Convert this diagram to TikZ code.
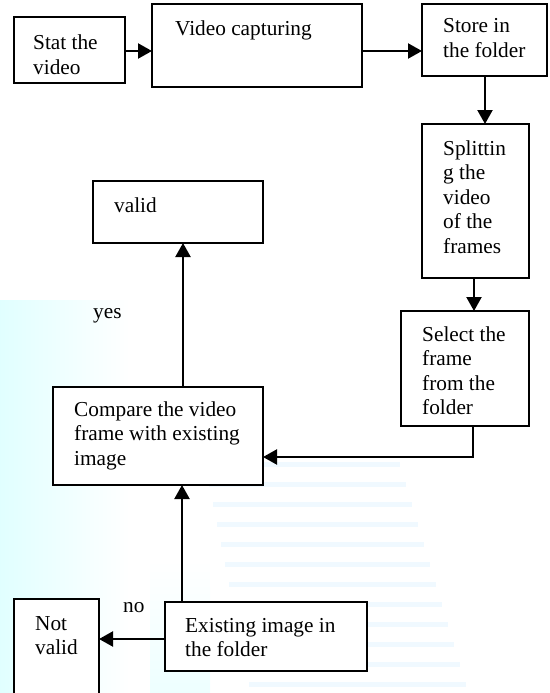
\documentclass[tikz,border=0pt]{standalone}
\usepackage{fontspec}
\setmainfont{Liberation Serif}
\usetikzlibrary{arrows.meta}
\newcommand\mtext[1]{\begin{tabular}[t]{@{}l@{}}#1\end{tabular}}
\tikzset{
  box/.style={draw=black, line width=1.6pt, inner sep=0pt, outer sep=0pt, anchor=north west, fill=white},
  txt/.style={anchor=base west, inner sep=0pt, font=\fontsize{21.3}{24.5}\selectfont},
  conn/.style={line width=2.2pt, -{Triangle[length=14pt,width=15pt]}},
}
\begin{document}
\begin{tikzpicture}[x=1pt,y=-1pt]
\useasboundingbox (0,0) rectangle (549,693);
% faint watermark background
\shade[left color=cyan!12, right color=white] (0,300) rectangle (130,693);
\shade[top color=white, bottom color=cyan!7] (150,560) rectangle (210,693);
\foreach \i in {0,...,11}{
  \fill[blue!40!cyan, opacity=0.06] (205+4*\i,462+20*\i) rectangle (400+6*\i,467+20*\i);
}
% boxes
\node[box, minimum width=111pt, minimum height=66pt] (stat) at (14,17) {};
\node[box, minimum width=210pt, minimum height=83pt] (cap) at (152,4) {};
\node[box, minimum width=125pt, minimum height=72pt] (store) at (422,4) {};
\node[box, minimum width=107pt, minimum height=154pt] (split) at (422,124) {};
\node[box, minimum width=128pt, minimum height=115pt] (select) at (401,311) {};
\node[box, minimum width=210pt, minimum height=98pt] (cmp) at (53,387) {};
\node[box, minimum width=170pt, minimum height=62pt] (valid) at (93,181) {};
\node[box, minimum width=202pt, minimum height=69pt] (exist) at (165,602) {};
\node[box, minimum width=85pt, minimum height=100pt] (notv) at (14,599) {};
% texts
\node[txt] (t1) at (33,50) {\mtext{Stat the\\video}};
\node[txt] (t2) at (175,36) {Video capturing};
\node[txt] (t3) at (443,33) {\mtext{Store in\\the folder}};
\node[txt] (t4) at (443,155) {\mtext{Splittin\\g the\\video\\of the\\frames}};
\node[txt] (t5) at (422,341) {\mtext{Select the\\frame\\from the\\folder}};
\node[txt] (t6) at (74,416) {\mtext{Compare the video\\frame with existing\\image}};
\node[txt] (t7) at (114,212) {valid};
\node[txt] (t8) at (185,632) {\mtext{Existing image in\\the folder}};
\node[txt] (t9) at (35,630) {\mtext{Not\\valid}};
\node[txt] (yes) at (93,318) {yes};
\node[txt] (no) at (123,612) {no};
% connectors
\draw[conn] (stat.east |- 0,51) -- (cap.west |- 0,51);
\draw[conn] (cap.east |- 0,51) -- (store.west |- 0,51);
\draw[conn] (store.south -| 485,0) -- (split.north -| 485,0);
\draw[conn] (split.south -| 474,0) -- (select.north -| 474,0);
\coordinate (bend) at (473,457);
\draw[conn] (select.south -| bend) -- (bend) -- (cmp.east |- bend);
\draw[conn] (cmp.north -| 183,0) -- (valid.south -| 183,0);
\draw[conn] (exist.north -| 182,0) -- (cmp.south -| 182,0);
\draw[conn] (exist.west |- 0,639) -- (notv.east |- 0,639);
\end{tikzpicture}
\end{document}
